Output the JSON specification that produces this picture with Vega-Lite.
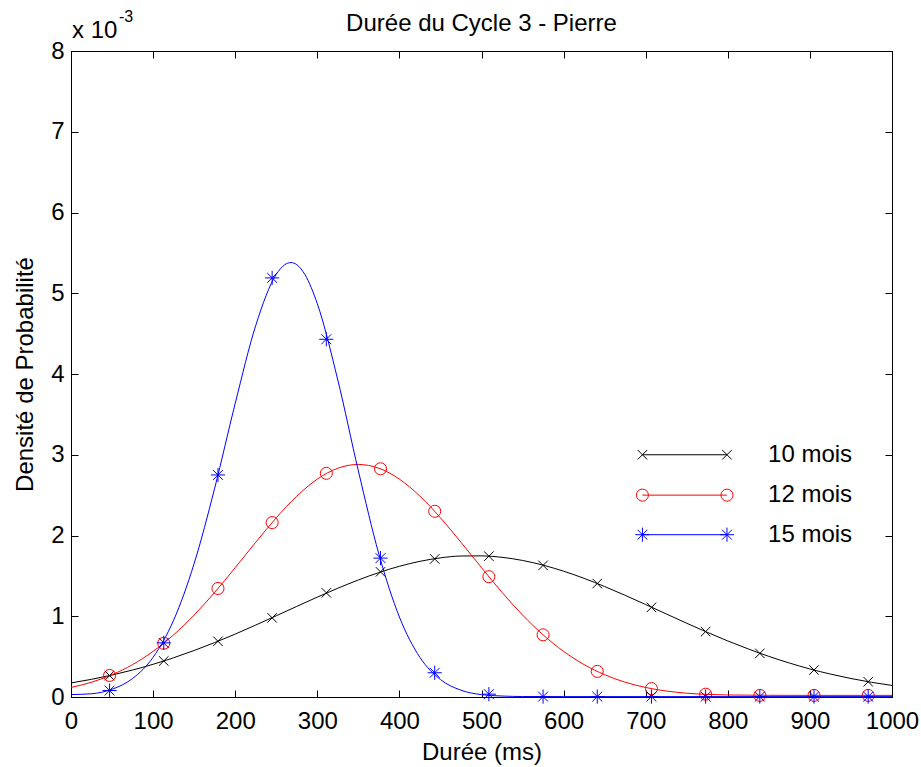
{
  "$schema": "https://vega.github.io/schema/vega-lite/v6.json",
  "width": 821,
  "height": 646,
  "autosize": {"type": "none"},
  "padding": {"left": 71, "top": 51, "right": 29, "bottom": 70},
  "background": "white",
  "config": {
    "view": {"stroke": "black", "strokeWidth": 1},
    "font": "Liberation Sans",
    "axis": {
      "domain": false, "grid": false,
      "tickColor": "black", "tickSize": -7, "tickWidth": 1,
      "labelFont": "Liberation Sans", "labelFontSize": 24, "labelColor": "black",
      "titleFont": "Liberation Sans", "titleFontSize": 24, "titleFontWeight": "normal", "titleColor": "black"
    }
  },
  "title": {"text": "Durée du Cycle 3 - Pierre", "fontSize": 24, "fontWeight": "normal", "color": "black", "font": "Liberation Sans", "baseline": "bottom", "offset": -51},
  "datasets": {
    "lignes": [
      {"s": "10 mois", "x": 0, "y": 0.174}, {"s": "10 mois", "x": 25, "y": 0.219}, {"s": "10 mois", "x": 50, "y": 0.272}, {"s": "10 mois", "x": 75, "y": 0.334},
      {"s": "10 mois", "x": 100, "y": 0.405}, {"s": "10 mois", "x": 125, "y": 0.486}, {"s": "10 mois", "x": 150, "y": 0.576}, {"s": "10 mois", "x": 175, "y": 0.674},
      {"s": "10 mois", "x": 200, "y": 0.779}, {"s": "10 mois", "x": 225, "y": 0.891}, {"s": "10 mois", "x": 250, "y": 1.006}, {"s": "10 mois", "x": 275, "y": 1.122},
      {"s": "10 mois", "x": 300, "y": 1.237}, {"s": "10 mois", "x": 325, "y": 1.347}, {"s": "10 mois", "x": 350, "y": 1.449}, {"s": "10 mois", "x": 375, "y": 1.541},
      {"s": "10 mois", "x": 400, "y": 1.619}, {"s": "10 mois", "x": 425, "y": 1.680}, {"s": "10 mois", "x": 450, "y": 1.723}, {"s": "10 mois", "x": 475, "y": 1.746},
      {"s": "10 mois", "x": 500, "y": 1.748}, {"s": "10 mois", "x": 525, "y": 1.730}, {"s": "10 mois", "x": 550, "y": 1.691}, {"s": "10 mois", "x": 575, "y": 1.633},
      {"s": "10 mois", "x": 600, "y": 1.558}, {"s": "10 mois", "x": 625, "y": 1.469}, {"s": "10 mois", "x": 650, "y": 1.368}, {"s": "10 mois", "x": 675, "y": 1.259},
      {"s": "10 mois", "x": 700, "y": 1.145}, {"s": "10 mois", "x": 725, "y": 1.029}, {"s": "10 mois", "x": 750, "y": 0.913}, {"s": "10 mois", "x": 775, "y": 0.801},
      {"s": "10 mois", "x": 800, "y": 0.694}, {"s": "10 mois", "x": 825, "y": 0.595}, {"s": "10 mois", "x": 850, "y": 0.503}, {"s": "10 mois", "x": 875, "y": 0.421},
      {"s": "10 mois", "x": 900, "y": 0.347}, {"s": "10 mois", "x": 925, "y": 0.284}, {"s": "10 mois", "x": 950, "y": 0.229}, {"s": "10 mois", "x": 975, "y": 0.182},
      {"s": "10 mois", "x": 1000, "y": 0.143},
      {"s": "12 mois", "x": 0, "y": 0.118}, {"s": "12 mois", "x": 25, "y": 0.183}, {"s": "12 mois", "x": 50, "y": 0.276}, {"s": "12 mois", "x": 75, "y": 0.401},
      {"s": "12 mois", "x": 100, "y": 0.565}, {"s": "12 mois", "x": 125, "y": 0.770}, {"s": "12 mois", "x": 150, "y": 1.015}, {"s": "12 mois", "x": 175, "y": 1.296},
      {"s": "12 mois", "x": 200, "y": 1.602}, {"s": "12 mois", "x": 225, "y": 1.916}, {"s": "12 mois", "x": 250, "y": 2.219}, {"s": "12 mois", "x": 275, "y": 2.487},
      {"s": "12 mois", "x": 300, "y": 2.698}, {"s": "12 mois", "x": 325, "y": 2.833}, {"s": "12 mois", "x": 350, "y": 2.880}, {"s": "12 mois", "x": 375, "y": 2.833},
      {"s": "12 mois", "x": 400, "y": 2.698}, {"s": "12 mois", "x": 425, "y": 2.487}, {"s": "12 mois", "x": 450, "y": 2.219}, {"s": "12 mois", "x": 475, "y": 1.916},
      {"s": "12 mois", "x": 500, "y": 1.602}, {"s": "12 mois", "x": 525, "y": 1.296}, {"s": "12 mois", "x": 550, "y": 1.015}, {"s": "12 mois", "x": 575, "y": 0.770},
      {"s": "12 mois", "x": 600, "y": 0.565}, {"s": "12 mois", "x": 625, "y": 0.401}, {"s": "12 mois", "x": 650, "y": 0.276}, {"s": "12 mois", "x": 675, "y": 0.183},
      {"s": "12 mois", "x": 700, "y": 0.118}, {"s": "12 mois", "x": 725, "y": 0.074}, {"s": "12 mois", "x": 750, "y": 0.047}, {"s": "12 mois", "x": 775, "y": 0.032},
      {"s": "12 mois", "x": 800, "y": 0.025}, {"s": "12 mois", "x": 850, "y": 0.021}, {"s": "12 mois", "x": 900, "y": 0.02}, {"s": "12 mois", "x": 1000, "y": 0.02},
      {"s": "15 mois", "x": 0, "y": 0.03}, {"s": "15 mois", "x": 25, "y": 0.04}, {"s": "15 mois", "x": 50, "y": 0.096}, {"s": "15 mois", "x": 75, "y": 0.229},
      {"s": "15 mois", "x": 100, "y": 0.492}, {"s": "15 mois", "x": 125, "y": 0.951}, {"s": "15 mois", "x": 150, "y": 1.653}, {"s": "15 mois", "x": 175, "y": 2.585},
      {"s": "15 mois", "x": 200, "y": 3.636}, {"s": "15 mois", "x": 225, "y": 4.600}, {"s": "15 mois", "x": 250, "y": 5.234}, {"s": "15 mois", "x": 260, "y": 5.351},
      {"s": "15 mois", "x": 268, "y": 5.38}, {"s": "15 mois", "x": 275, "y": 5.354}, {"s": "15 mois", "x": 285, "y": 5.23}, {"s": "15 mois", "x": 300, "y": 4.871},
      {"s": "15 mois", "x": 325, "y": 3.925}, {"s": "15 mois", "x": 350, "y": 2.801}, {"s": "15 mois", "x": 375, "y": 1.770}, {"s": "15 mois", "x": 400, "y": 0.991},
      {"s": "15 mois", "x": 425, "y": 0.491}, {"s": "15 mois", "x": 450, "y": 0.216}, {"s": "15 mois", "x": 475, "y": 0.084}, {"s": "15 mois", "x": 500, "y": 0.029},
      {"s": "15 mois", "x": 525, "y": 0.012}, {"s": "15 mois", "x": 550, "y": 0.006}, {"s": "15 mois", "x": 600, "y": 0.005}, {"s": "15 mois", "x": 1000, "y": 0.005}
    ],
    "marqueurs": [
      {"s": "10 mois", "x": 47, "y": 0.265}, {"s": "10 mois", "x": 113, "y": 0.446}, {"s": "10 mois", "x": 179, "y": 0.69}, {"s": "10 mois", "x": 245, "y": 0.98},
      {"s": "10 mois", "x": 311, "y": 1.29}, {"s": "10 mois", "x": 377, "y": 1.55}, {"s": "10 mois", "x": 443, "y": 1.71}, {"s": "10 mois", "x": 509, "y": 1.744},
      {"s": "10 mois", "x": 575, "y": 1.63}, {"s": "10 mois", "x": 641, "y": 1.405}, {"s": "10 mois", "x": 707, "y": 1.11}, {"s": "10 mois", "x": 773, "y": 0.81},
      {"s": "10 mois", "x": 839, "y": 0.54}, {"s": "10 mois", "x": 905, "y": 0.334}, {"s": "10 mois", "x": 971, "y": 0.189},
      {"s": "12 mois", "x": 47, "y": 0.267}, {"s": "12 mois", "x": 113, "y": 0.666}, {"s": "12 mois", "x": 179, "y": 1.344}, {"s": "12 mois", "x": 245, "y": 2.16},
      {"s": "12 mois", "x": 311, "y": 2.77}, {"s": "12 mois", "x": 377, "y": 2.826}, {"s": "12 mois", "x": 443, "y": 2.30}, {"s": "12 mois", "x": 509, "y": 1.49},
      {"s": "12 mois", "x": 575, "y": 0.77}, {"s": "12 mois", "x": 641, "y": 0.317}, {"s": "12 mois", "x": 707, "y": 0.104}, {"s": "12 mois", "x": 773, "y": 0.035},
      {"s": "12 mois", "x": 839, "y": 0.02}, {"s": "12 mois", "x": 905, "y": 0.02}, {"s": "12 mois", "x": 971, "y": 0.02},
      {"s": "15 mois", "x": 47, "y": 0.08}, {"s": "15 mois", "x": 113, "y": 0.67}, {"s": "15 mois", "x": 179, "y": 2.75}, {"s": "15 mois", "x": 245, "y": 5.19},
      {"s": "15 mois", "x": 311, "y": 4.43}, {"s": "15 mois", "x": 377, "y": 1.72}, {"s": "15 mois", "x": 443, "y": 0.30}, {"s": "15 mois", "x": 509, "y": 0.035},
      {"s": "15 mois", "x": 575, "y": 0.005}, {"s": "15 mois", "x": 641, "y": 0.005}, {"s": "15 mois", "x": 707, "y": 0.005}, {"s": "15 mois", "x": 773, "y": 0.005},
      {"s": "15 mois", "x": 839, "y": 0.005}, {"s": "15 mois", "x": 905, "y": 0.005}, {"s": "15 mois", "x": 971, "y": 0.005}
    ],
    "legende": [
      {"s": "10 mois", "x": 696, "y": 3.0}, {"s": "10 mois", "x": 799, "y": 3.0},
      {"s": "12 mois", "x": 696, "y": 2.5}, {"s": "12 mois", "x": 799, "y": 2.5},
      {"s": "15 mois", "x": 696, "y": 2.01}, {"s": "15 mois", "x": 799, "y": 2.01}
    ],
    "legende_texte": [
      {"s": "10 mois", "x": 849, "y": 3.0}, {"s": "12 mois", "x": 849, "y": 2.5}, {"s": "15 mois", "x": 849, "y": 2.01}
    ],
    "exposant": [
      {"x": 0, "y": 8, "base": "x 10", "exp": "-3"}
    ]
  },
  "layer": [
    {
      "data": {"name": "lignes"},
      "mark": {"type": "line", "strokeWidth": 1, "interpolate": "monotone"},
      "encoding": {
        "x": {"field": "x", "type": "quantitative", "scale": {"domain": [0, 1000], "nice": false, "zero": false},
              "axis": {"orient": "bottom", "values": [0, 100, 200, 300, 400, 500, 600, 700, 800, 900, 1000], "format": "d", "labelPadding": 19, "title": "Durée (ms)", "titlePadding": 7, "labelFlush": false, "labelOverlap": false}},
        "y": {"field": "y", "type": "quantitative", "scale": {"domain": [0, 8], "nice": false, "zero": false},
              "axis": {"orient": "left", "values": [0, 1, 2, 3, 4, 5, 6, 7, 8], "labelPadding": 14, "title": "Densité de Probabilité", "titlePadding": 13, "labelFlush": false, "labelOverlap": false}},
        "color": {"field": "s", "type": "nominal", "scale": {"domain": ["10 mois", "12 mois", "15 mois"], "range": ["#000000", "#ff0000", "#0000ff"]}, "legend": null},
        "detail": {"field": "s"}
      }
    },
    {
      "data": {"name": "marqueurs"},
      "mark": {"type": "point", "filled": false, "strokeWidth": 1, "opacity": 1},
      "encoding": {
        "x": {"field": "x", "type": "quantitative", "scale": {"domain": [0, 1000], "nice": false, "zero": false},
              "axis": {"orient": "top", "values": [0, 100, 200, 300, 400, 500, 600, 700, 800, 900, 1000], "labels": false, "title": null}},
        "y": {"field": "y", "type": "quantitative", "scale": {"domain": [0, 8], "nice": false, "zero": false},
              "axis": {"orient": "right", "values": [0, 1, 2, 3, 4, 5, 6, 7, 8], "labels": false, "title": null}},
        "color": {"field": "s", "type": "nominal", "scale": {"domain": ["10 mois", "12 mois", "15 mois"], "range": ["#000000", "#ff0000", "#0000ff"]}, "legend": null},
        "shape": {"field": "s", "type": "nominal", "scale": {"domain": ["10 mois", "12 mois", "15 mois"], "range": ["M-1,-1L1,1M-1,1L1,-1", "circle", "M-1,0L1,0M0,-1L0,1M-0.7,-0.7L0.7,0.7M-0.7,0.7L0.7,-0.7"]}, "legend": null},
        "size": {"field": "s", "type": "nominal", "scale": {"domain": ["10 mois", "12 mois", "15 mois"], "range": [90, 200, 180]}, "legend": null}
      }
    },
    {
      "data": {"name": "legende"},
      "mark": {"type": "line", "strokeWidth": 1},
      "encoding": {
        "x": {"field": "x", "type": "quantitative", "axis": null},
        "y": {"field": "y", "type": "quantitative", "axis": null},
        "color": {"field": "s", "type": "nominal", "scale": {"domain": ["10 mois", "12 mois", "15 mois"], "range": ["#000000", "#ff0000", "#0000ff"]}, "legend": null},
        "detail": {"field": "s"}
      }
    },
    {
      "data": {"name": "legende"},
      "mark": {"type": "point", "filled": false, "strokeWidth": 1, "opacity": 1},
      "encoding": {
        "x": {"field": "x", "type": "quantitative", "axis": null},
        "y": {"field": "y", "type": "quantitative", "axis": null},
        "color": {"field": "s", "type": "nominal", "scale": {"domain": ["10 mois", "12 mois", "15 mois"], "range": ["#000000", "#ff0000", "#0000ff"]}, "legend": null},
        "shape": {"field": "s", "type": "nominal", "scale": {"domain": ["10 mois", "12 mois", "15 mois"], "range": ["M-1,-1L1,1M-1,1L1,-1", "circle", "M-1,0L1,0M0,-1L0,1M-0.7,-0.7L0.7,0.7M-0.7,0.7L0.7,-0.7"]}, "legend": null},
        "size": {"field": "s", "type": "nominal", "scale": {"domain": ["10 mois", "12 mois", "15 mois"], "range": [90, 200, 180]}, "legend": null}
      }
    },
    {
      "data": {"name": "legende_texte"},
      "mark": {"type": "text", "align": "left", "baseline": "middle", "fontSize": 24, "font": "Liberation Sans", "color": "black"},
      "encoding": {
        "x": {"field": "x", "type": "quantitative", "axis": null},
        "y": {"field": "y", "type": "quantitative", "axis": null},
        "text": {"field": "s"}
      }
    },
    {
      "data": {"name": "exposant"},
      "mark": {"type": "text", "align": "left", "baseline": "alphabetic", "fontSize": 24, "font": "Liberation Sans", "color": "black", "dx": 1, "dy": -13},
      "encoding": {
        "x": {"field": "x", "type": "quantitative", "axis": null},
        "y": {"field": "y", "type": "quantitative", "axis": null},
        "text": {"field": "base"}
      }
    },
    {
      "data": {"name": "exposant"},
      "mark": {"type": "text", "align": "left", "baseline": "alphabetic", "fontSize": 16, "font": "Liberation Sans", "color": "black", "dx": 48, "dy": -29},
      "encoding": {
        "x": {"field": "x", "type": "quantitative", "axis": null},
        "y": {"field": "y", "type": "quantitative", "axis": null},
        "text": {"field": "exp"}
      }
    }
  ],
  "resolve": {"axis": {"x": "independent", "y": "independent"}}
}
